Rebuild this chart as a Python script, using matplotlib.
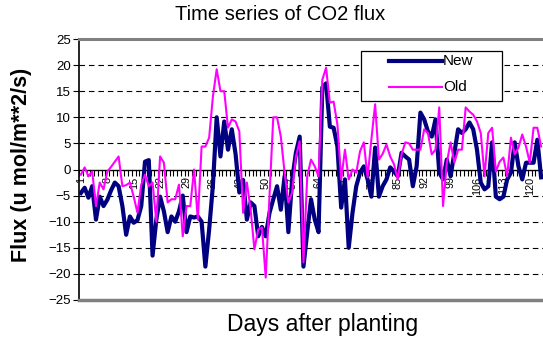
import matplotlib
matplotlib.use("Agg")
import matplotlib.pyplot as plt
from matplotlib.patches import Rectangle
from matplotlib.lines import Line2D
import numpy as np

days = list(range(1, 124))
tick_days = list(range(1, 124, 7))

new_flux = [
    -4.5, -3.5, -5.4, -3.2, -9.6, -5.2, -7.0, -5.8, -4.0, -2.5,
    -3.2, -7.0, -12.5, -9.0, -10.2, -9.7, -7.0, 1.5, 1.8, -16.5,
    -9.6, -5.2, -8.0, -12.0, -9.0, -10.0, -8.0, -5.0, -12.0, -9.0,
    -9.2, -9.0, -10.0, -18.6, -11.5, -3.0, 10.0, 2.5, 9.2, 3.8,
    7.7, 3.0, -4.4, -2.0, -9.6, -6.3, -7.0, -12.8, -11.0, -12.8,
    -8.3, -5.7, -3.2, -7.7, -1.3, -12.0, -1.9, 3.2, 6.3, -18.6,
    -12.0, -5.7, -9.6, -12.0, 15.7, 16.5, 8.2, 8.0, 4.4, -7.3,
    -1.9, -15.0, -8.3, -3.2, -0.6, 0.6, -1.9, -5.2, 4.2, -5.2,
    -3.2, -1.9, 0.4, -0.4, -1.3, 3.2, 2.5, 1.9, -3.2, 0.6,
    10.9, 9.6, 7.3, 6.3, 9.6, -0.6, -1.9, 1.9, -1.3, 3.2,
    7.7, 7.0, 7.7, 9.0, 7.7, 3.8, -2.5, -3.8, -3.2, 5.2,
    -5.2, -5.7, -5.2, -1.9, -0.6, 5.2, 0.6, -1.9, 1.3, 1.3,
    1.3, 5.7, -1.5,
]

old_flux = [
    -1.0, 0.4, -1.3, -0.4, -7.0, -2.5, -3.8, -0.4, 0.5, 1.5,
    2.5, -3.2, -3.0, -2.5, -5.2, -8.3, -2.9, -1.0, -3.2, -2.5,
    -10.0, 2.5, 1.3, -6.3, -5.7, -5.7, -2.9, -12.8, -7.0, -7.0,
    0.0, -9.6, 4.4, 4.4, 6.1, 14.0, 19.2, 15.0, 15.0, 8.0,
    9.6, 9.2, 7.3, -8.3, -2.5, -7.7, -15.3, -11.5, -11.1, -20.7,
    -5.0, 10.0, 10.0, 6.3, -0.6, -6.3, -4.4, 2.5, 5.4, -17.8,
    -1.3, 1.9, 0.6, -1.3, 17.2, 19.5, 12.8, 13.0, 8.6, -1.9,
    3.8, -1.9, 0.0, -0.6, 3.5, 5.2, -1.5, 5.7, 12.5, 1.9,
    3.0, 4.8, 2.5, 1.0, -1.9, 2.9, 5.2, 5.0, 3.8, 3.8,
    3.8, 7.7, 7.0, 2.9, 3.8, 11.9, -7.0, 1.3, 5.2, 1.3,
    3.8, 3.8, 11.9, 11.1, 10.5, 9.2, 7.0, -1.3, 7.0, 8.0,
    -0.4, 1.5, 2.3, -1.3, 6.1, 2.9, 4.2, 6.7, 4.4, 1.3,
    8.0, 8.0, 4.4,
]

series_names = ['New', 'Old']
series_colors = ['#000080', '#FF00FF']

plt.rcParams['font.family'] = ['Liberation Sans', 'DejaVu Sans']

W, H = 543, 339
fig = plt.figure(figsize=(W / 100, H / 100), dpi=100)
ax = fig.add_axes([79/W, 1 - 300/H, 1 - 79/W, (300 - 39)/H])

ax.plot(days, new_flux, color=series_colors[0], lw=3.0, zorder=3)
ax.plot(days, old_flux, color=series_colors[1], lw=1.5, zorder=4)

ax.set_xlim(0.5, 123.5)
ax.set_ylim(-25, 25)

for v in range(-20, 25, 5):
    if v == 0:
        continue
    ax.axhline(v, color='black', lw=0.8, dashes=(5, 3.5), zorder=1)

ax.set_yticks(range(-25, 30, 5))
ax.tick_params(axis='y', direction='out', length=4, width=0.8, labelsize=9.5, pad=2)

ax.spines['bottom'].set_position(('data', 0))
ax.spines['bottom'].set_color('black')
ax.spines['bottom'].set_linewidth(1.0)
ax.spines['left'].set_color('black')
ax.spines['left'].set_linewidth(1.2)
ax.spines['top'].set_color('#808080')
ax.spines['top'].set_linewidth(2.2)
ax.spines['right'].set_visible(False)
ax.axhline(-25, color='#808080', lw=2.5, clip_on=False, zorder=5)

ax.set_xticks(tick_days)
ax.set_xticklabels([str(d) for d in tick_days], rotation=90, fontsize=7.8)
ax.set_xticks(np.arange(0.5, 124, 1.0), minor=True)
ax.tick_params(axis='x', which='major', length=0, pad=5)
ax.tick_params(axis='x', which='minor', direction='out', length=4, width=0.8)

fig.text(280/W, 1 - 15/H, 'Time series of CO2 flux', ha='center', va='center', fontsize=14.5)
fig.text(22/W, 1 - 165/H, 'Flux (u mol/m**2/s)', ha='center', va='center', rotation=90,
         fontsize=15.5, fontweight='bold')
fig.text(323/W, 1 - 324/H, 'Days after planting', ha='center', va='center', fontsize=16.5)

fig.patches.append(Rectangle((361/W, 1 - 101/H), (502 - 361)/W, (101 - 51)/H,
                             transform=fig.transFigure, facecolor='white',
                             edgecolor='black', lw=0.9, zorder=6))
for i, (name, col, lw) in enumerate(zip(series_names, series_colors, [3.0, 1.5])):
    yy = 1 - (61 + 26 * i)/H
    fig.lines.append(Line2D([389/W, 442/W], [yy, yy], transform=fig.transFigure,
                            color=col, lw=lw, zorder=7))
    fig.text(443/W, yy, name, ha='left', va='center', fontsize=11, zorder=7)

fig.savefig('out.png', dpi=100)
